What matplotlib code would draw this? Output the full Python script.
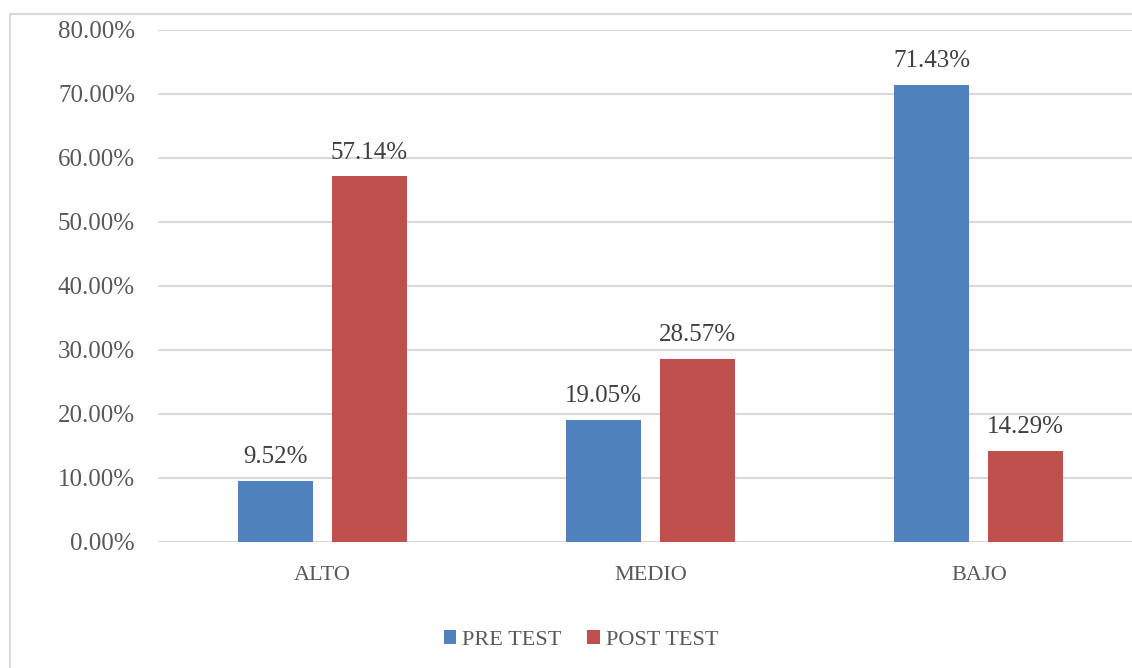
import numpy as np
import matplotlib.pyplot as plt
from matplotlib.patches import Rectangle

categories = ["ALTO", "MEDIO", "BAJO"]
pre_test = [9.52, 19.05, 71.43]
post_test = [57.14, 28.57, 14.29]
series_names = ["PRE TEST", "POST TEST"]

plt.rcParams['font.family'] = ['Liberation Serif', 'DejaVu Serif']

W, H = 1132, 668
fig = plt.figure(figsize=(W / 100, H / 100), dpi=100)

# chart frame
fig.patches.append(Rectangle((10 / W, -0.1), 1.2, 1 - 14 / H + 0.1, transform=fig.transFigure,
                             fill=False, edgecolor="#d9d9d9", linewidth=1.5))

ax = fig.add_axes([158 / W, 1 - 542 / H, 985 / W, 512 / H])

x = np.arange(len(categories))
bw = 0.228
off = 0.143
b1 = ax.bar(x - off, pre_test, bw, color="#4f81bd", label=series_names[0], zorder=3)
b2 = ax.bar(x + off, post_test, bw, color="#c0504d", label=series_names[1], zorder=3)

for bars, vals in ((b1, pre_test), (b2, post_test)):
    for b, v in zip(bars, vals):
        ax.text(b.get_x() + b.get_width() / 2, v + 2.0, f"{v:.2f}%", ha="center", va="bottom",
                fontsize=18, color="#404040")

ax.set_xlim(-0.5, 2.5)
ax.set_ylim(0, 80)
ax.set_yticks(np.arange(0, 81, 10))
ax.set_yticklabels([f"{t:.2f}%" for t in np.arange(0, 81, 10)])
ax.set_xticks(x)
ax.set_xticklabels(categories)
ax.tick_params(axis="both", length=0, labelcolor="#595959")
ax.tick_params(axis="y", pad=16.5, labelsize=18)
ax.tick_params(axis="x", pad=17.5, labelsize=16)
ax.grid(axis="y", color="#d9d9d9", linewidth=1.5, zorder=0)
for s in ax.spines.values():
    s.set_visible(False)

fig.legend(loc="center", bbox_to_anchor=(581 / W, 1 - 640 / H), ncol=2, frameon=False,
           fontsize=16, handlelength=0.55, handleheight=0.55, handletextpad=0.28,
           columnspacing=1.17, labelcolor="#595959")

fig.savefig("out.png", dpi=100)
